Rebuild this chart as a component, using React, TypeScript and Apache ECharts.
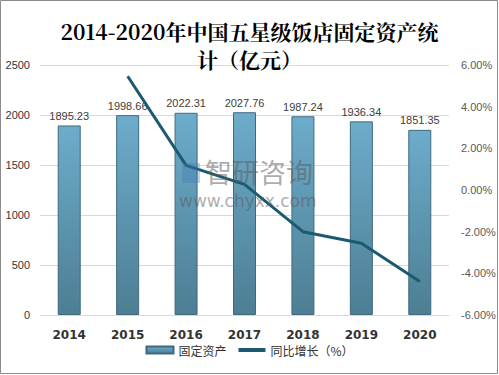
import React, { useEffect, useRef } from "react";
import * as echarts from "echarts";

const categories = ["2014", "2015", "2016", "2017", "2018", "2019", "2020"];
const assets = [1895.23, 1998.66, 2022.31, 2027.76, 1987.24, 1936.34, 1851.35];
const growth = [null, 5.46, 1.18, 0.27, -2.0, -2.56, -4.39];
const leftTicks = { min: 0, max: 2500, interval: 500 };
const rightTicks = { min: -6, max: 6, interval: 2 };

export default function App() {
  const ref = useRef<HTMLDivElement>(null);
  useEffect(() => {
    const chart = echarts.init(ref.current!, null, { renderer: "svg" });
    const barGrad = new echarts.graphic.LinearGradient(0, 0, 0, 1, [
      { offset: 0, color: "#6daccb" },
      { offset: 1, color: "#4d7e93" },
    ]);
    chart.setOption({
      animation: false,
      title: {
        text: "2014-2020年中国五星级饭店固定资产统\n计（亿元）",
        left: "center",
        top: 12,
        textStyle: {
          fontFamily: "'Noto Serif CJK SC', 'DejaVu Serif', serif",
          fontWeight: "bold",
          fontSize: 21,
          lineHeight: 28,
          color: "#000",
        },
      },
      graphic: [
        {
          type: "rect",
          shape: { x: 0.5, y: 0.5, width: 497, height: 373 },
          style: { fill: "none", stroke: "#8c8c8c", lineWidth: 1 },
          z: 100,
        },
        {
          type: "rect",
          shape: { x: 182, y: 163, width: 18, height: 20 },
          style: { fill: "rgba(70,120,180,0.35)" },
          z: 50,
        },
        {
          type: "text",
          left: 205,
          top: 158,
          style: { text: "智研咨询", fontSize: 27, fill: "rgba(90,90,90,0.5)", fontFamily: "'Noto Sans CJK SC', sans-serif" },
          z: 50,
        },
        {
          type: "text",
          left: 179,
          top: 192,
          style: { text: "www.chyxx.com", fontSize: 17, fill: "rgba(90,90,90,0.5)", fontFamily: "'DejaVu Sans', sans-serif" },
          z: 50,
        },
      ],
      grid: { left: 40, right: 50, top: 65, bottom: 60, containLabel: false },
      legend: {
        bottom: 14,
        left: "center",
        itemWidth: 27,
        itemHeight: 7,
        itemGap: 12,
        textStyle: { fontSize: 12, color: "#333", fontFamily: "'Noto Sans CJK SC', sans-serif" },
        data: [
          { name: "固定资产", icon: "rect" },
          { name: "同比增长（%）", icon: "path://M0,0H27V4H0Z" },
        ],
      },
      xAxis: {
        type: "category",
        data: categories,
        axisLine: { lineStyle: { color: "#d9d9d9" } },
        axisTick: { show: false },
        axisLabel: { fontWeight: "bold", fontSize: 12, color: "#333", margin: 14, fontFamily: "'DejaVu Sans', sans-serif" },
      },
      yAxis: [
        {
          type: "value",
          ...leftTicks,
          axisLine: { show: false },
          axisTick: { show: false },
          splitLine: { lineStyle: { color: "#d9d9d9" } },
          axisLabel: {
            fontSize: 11,
            color: "#333",
            margin: 10,
            fontFamily: "'Liberation Sans', sans-serif",
            formatter: (v: number) => String(v),
          },
        },
        {
          type: "value",
          ...rightTicks,
          axisLine: { show: false },
          axisTick: { show: false },
          splitLine: { show: false },
          axisLabel: {
            fontSize: 11,
            color: "#595959",
            margin: 12,
            fontFamily: "'Liberation Sans', sans-serif",
            formatter: (v: number) => v.toFixed(2) + "%",
          },
        },
      ],
      series: [
        {
          name: "固定资产",
          type: "bar",
          data: assets,
          barWidth: 23,
          itemStyle: { color: barGrad, borderColor: "#3f6a7e", borderWidth: 1 },
          label: {
            show: true,
            position: "top",
            fontSize: 11,
            color: "#404040",
            distance: 4,
            fontFamily: "'Liberation Sans', sans-serif",
            formatter: (p: any) => p.value.toFixed(2),
          },
        },
        {
          name: "同比增长（%）",
          type: "line",
          yAxisIndex: 1,
          data: growth,
          symbol: "none",
          lineStyle: { color: "#1c5a70", width: 3 },
          itemStyle: { color: "#1c5a70" },
          z: 10,
        },
      ],
    });
    return () => chart.dispose();
  }, []);
  return (
    <div
      ref={ref}
      style={{ position: "fixed", left: 0, top: 0, width: 499, height: 375, background: "#fff" }}
    />
  );
}
